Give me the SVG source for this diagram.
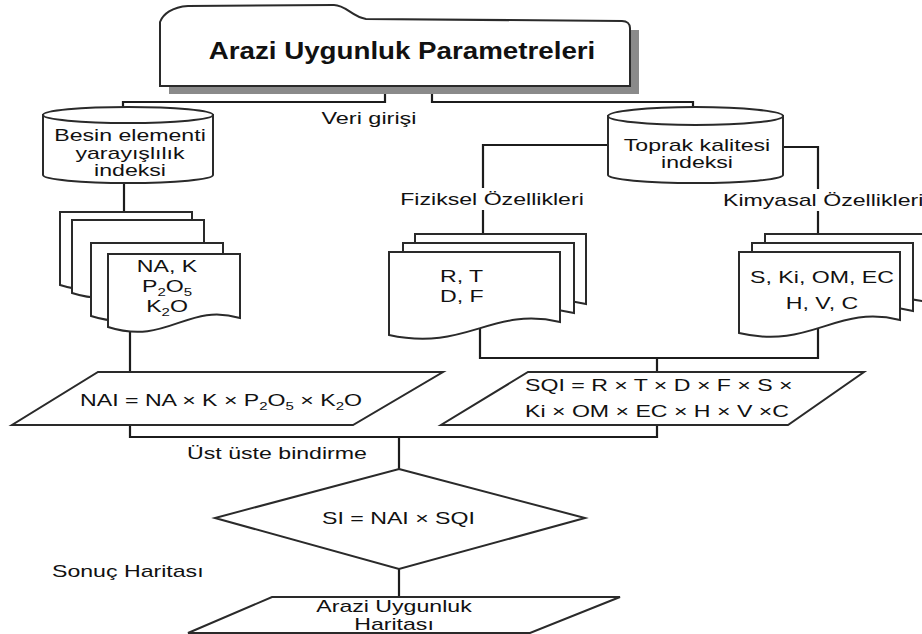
<svg xmlns="http://www.w3.org/2000/svg" width="922" height="634" viewBox="0 0 922 634">
<style>
.ln{fill:none;stroke:#1c1c1c;stroke-width:2.2}
.sh{fill:#fff;stroke:#2a2a2a;stroke-width:2}
.t{font-family:"Liberation Sans",Arial,sans-serif;font-size:17px;fill:#111}
.c{text-anchor:middle}
.sub{font-size:11px}
</style>
<rect width="922" height="634" fill="#fff"/>
<g id="connectors">
 <path class="ln" d="M385,88 V102 H123 V110"/>
 <path class="ln" d="M432,88 V102 H693 V110"/>
 <path class="ln" d="M124,176 V214"/>
 <path class="ln" d="M608,145 H483 V188 M483,210 V236"/>
 <path class="ln" d="M783,147 H818 V189 M818,211 V236"/>
 <path class="ln" d="M130,320 V374 M130,424 V437 H657 V424 M399,437 V470"/>
 <path class="ln" d="M480,325 V358 H818 V325 M657,358 V374"/>
 <path class="ln" d="M399,568 V598"/>
</g>
<g id="title">
 <rect x="169" y="30" width="470" height="64" fill="#8a8a8a"/>
 <path class="sh" d="M160,86 L160,22 C163,14 172,7 188,6 L334,5 C346,5 352,17 366,19 L622,21 C627,21 630,24 630,28 L630,86 Z"/>
 <text class="t c" font-weight="700" font-size="23.5px" style="font-size:23.5px" transform="translate(402 59) scale(1.18 1)">Arazi Uygunluk Parametreleri</text>
</g>
<g id="veri-girisi">
 <text class="t c" transform="translate(369 124) scale(1.38 1)">Veri girişi</text>
</g>
<g id="besin">
 <path class="sh" d="M43,115 V175 A85,8 0 0 0 213,175 V115 Z"/>
 <ellipse class="sh" cx="128" cy="115" rx="85" ry="8"/>
 <text class="t c" transform="translate(130 141) scale(1.36 1)">Besin elementi</text>
 <text class="t c" transform="translate(130 159) scale(1.36 1)">yarayışlılık</text>
 <text class="t c" transform="translate(130 176) scale(1.36 1)">indeksi</text>
</g>
<g id="toprak">
 <path class="sh" d="M608,116 V175 A87.5,8 0 0 0 783,175 V116 Z"/>
 <ellipse class="sh" cx="695.5" cy="116" rx="87.5" ry="9"/>
 <text class="t c" transform="translate(697 151) scale(1.36 1)">Toprak kalitesi</text>
 <text class="t c" transform="translate(697 168) scale(1.36 1)">indeksi</text>
</g>
<g id="fiziksel-label">
 <text class="t c" transform="translate(492 205) scale(1.36 1)">Fiziksel Özellikleri</text>
</g>
<g id="kimyasal-label">
 <text class="t" transform="translate(723 206) scale(1.36 1)">Kimyasal Özellikleri</text>
</g>
<g id="na-docs">
 <path class="sh" d="M60,212 H192 V276 C139.2,260 119.4,304 60,285 Z"/>
 <path class="sh" d="M72,220 H204 V284 C151.2,268 131.4,312 72,293 Z"/>
 <path class="sh" d="M91,243 H223 V307 C170.2,291 150.4,335 91,316 Z"/>
 <path class="sh" d="M108,254 H240 V318 C187.2,302 167.4,346 108,327 Z"/>
 <text class="t c" transform="translate(167 272) scale(1.36 1)">NA, K</text>
 <text class="t c" transform="translate(167 292) scale(1.36 1)">P<tspan class="sub" dy="4">2</tspan><tspan dy="-4">O</tspan><tspan class="sub" dy="4">5</tspan></text>
 <text class="t c" transform="translate(167 311.5) scale(1.36 1)">K<tspan class="sub" dy="4">2</tspan><tspan dy="-4">O</tspan></text>
</g>
<g id="fiziksel-docs">
 <path class="sh" d="M415,234 H586 V304 C517.6,288 491.95,334 415,317 Z"/>
 <path class="sh" d="M403,243 H574 V313 C505.6,297 479.95,343 403,326 Z"/>
 <path class="sh" d="M389,252 H560 V322 C491.6,306 465.95,352 389,335 Z"/>
 <text class="t" transform="translate(440 282) scale(1.36 1)">R, T</text>
 <text class="t" transform="translate(440 302) scale(1.36 1)">D, F</text>
</g>
<g id="kimyasal-docs">
 <path class="sh" d="M765,234 H926 V302 C861.6,286 837.45,332 765,315 Z"/>
 <path class="sh" d="M752,243 H913 V311 C848.6,295 824.45,341 752,324 Z"/>
 <path class="sh" d="M739,252 H900 V320 C835.6,304 811.45,350 739,333 Z"/>
 <text class="t c" transform="translate(822 283) scale(1.36 1)">S, Ki, OM, EC</text>
 <text class="t c" transform="translate(822 308.5) scale(1.36 1)">H, V, C</text>
</g>
<g id="nai">
 <polygon class="sh" points="98,372 443,372 353,425 12,425"/>
 <text class="t c" transform="translate(221 405.5) scale(1.36 1)">NAI = NA × K × P<tspan class="sub" dy="4">2</tspan><tspan dy="-4">O</tspan><tspan class="sub" dy="4">5</tspan><tspan dy="-4"> × K</tspan><tspan class="sub" dy="4">2</tspan><tspan dy="-4">O</tspan></text>
</g>
<g id="sqi">
 <polygon class="sh" points="528,372 864,372 788,425 441,425"/>
 <text class="t" transform="translate(525 390.5) scale(1.36 1)">SQI = R × T × D × F × S ×</text>
 <text class="t" transform="translate(525 416.5) scale(1.36 1)">Ki × OM × EC × H × V ×C</text>
</g>
<g id="ust-uste-label">
 <text class="t c" transform="translate(277 459) scale(1.36 1)">Üst üste bindirme</text>
</g>
<g id="si">
 <polygon class="sh" points="399,469 585,518 399,569 215,518"/>
 <text class="t c" transform="translate(398.5 524) scale(1.36 1)">SI = NAI × SQI</text>
</g>
<g id="sonuc-label">
 <text class="t" transform="translate(52 577) scale(1.36 1)">Sonuç Haritası</text>
</g>
<g id="harita">
 <polygon class="sh" points="272,597 620,597 530,633 188,633"/>
 <text class="t c" transform="translate(394 612) scale(1.36 1)">Arazi Uygunluk</text>
 <text class="t c" transform="translate(394 629.5) scale(1.36 1)">Haritası</text>
</g>
</svg>
